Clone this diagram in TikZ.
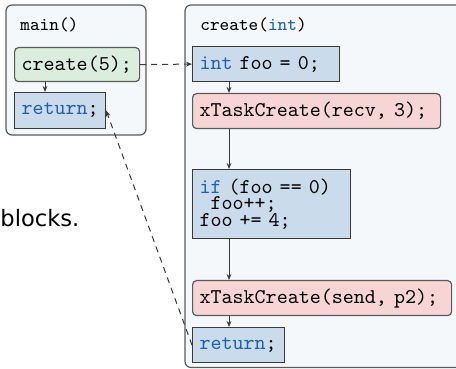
\documentclass[tikz,border=0pt]{standalone}
\usepackage{fontspec}
\newfontfamily\bodysans{DejaVu Sans}
\usetikzlibrary{arrows.meta}
\definecolor{panelfill}{HTML}{F5F8FB}
\definecolor{panelline}{HTML}{5A5A5A}
\definecolor{boxline}{HTML}{3A3A3A}
\definecolor{blockblue}{HTML}{CADBEB}
\definecolor{taskpink}{HTML}{F7D5D5}
\definecolor{callgreen}{HTML}{DBEEDD}
\definecolor{kw}{HTML}{1F5FAA}
\begin{document}
\begin{tikzpicture}[x=0.5pt,y=-0.5pt,
  panel/.style={draw=panelline,fill=panelfill,line width=0.6pt,rounded corners=3pt},
  ttl/.style={font=\fontsize{9.2}{10}\selectfont\ttfamily,anchor=base west,inner sep=0pt},
  code/.style={font=\fontsize{10.5}{8.3}\selectfont\ttfamily,anchor=north west,align=left,
    inner xsep=3.5pt,inner ysep=0pt,draw=boxline,line width=0.6pt},
  blk/.style={code,fill=blockblue},
  tsk/.style={code,fill=taskpink,rounded corners=2pt,draw=panelline},
  cal/.style={code,fill=callgreen,rounded corners=2pt,draw=panelline},
  arr/.style={draw=boxline,line width=0.5pt,-{Stealth[length=3pt,width=2.4pt]}},
  darr/.style={arr,dashed,dash pattern=on 3pt off 2.5pt}]
\clip (0,0) rectangle (456,369);
% panels
\draw[panel] (6,5) rectangle (146,135);
\draw[panel] (185,5) rectangle (480,367.5);
\node[ttl] (tmain) at (20,30.5) {main()};
\node[ttl] (tcreate) at (200,31) {create(\textcolor{kw}{int})};
% left text
\node[anchor=base west,inner sep=0pt,font=\bodysans\fontsize{11.3}{13}\selectfont] (blk) at (0,226.5) {blocks.};
% main boxes
\node[cal,text width=55.5pt,minimum height=17pt] (c5) at (14,47) {create(5);};
\node[blk,text width=38.5pt,minimum height=18pt] (mret) at (14,92) {\textcolor{kw}{return};};
% create boxes
\node[blk,text width=66.5pt,minimum height=17.5pt] (ifoo) at (192,46) {\textcolor{kw}{int} foo = 0;};
\node[tsk,text width=117pt,minimum height=17.5pt] (recv) at (192,93) {xTaskCreate(recv, 3);};
\node[blk,text width=72pt,minimum height=34.5pt] (ifb) at (192,169) {\textcolor{kw}{if} (foo == 0)\\\hphantom{f}foo++;\\foo += 4;};
\node[tsk,text width=122.5pt,minimum height=17.5pt] (send) at (192,280) {xTaskCreate(send, p2);};
\node[blk,text width=39pt,minimum height=17.5pt] (cret) at (192,327) {\textcolor{kw}{return};};
% arrow columns
\coordinate (ax) at (229,0);
\coordinate (mx) at (45,0);
\draw[arr] (c5.south -| mx) -- (mret.north -| mx);
\draw[arr] (ifoo.south -| ax) -- (recv.north -| ax);
\draw[arr] (recv.south -| ax) -- (ifb.north -| ax);
\draw[arr] (ifb.south -| ax) -- (send.north -| ax);
\draw[arr] (send.south -| ax) -- (cret.north -| ax);
% call / return
\draw[darr] (c5.east) -- (ifoo.west);
\draw[darr] (cret.west) -- (mret.east);
\end{tikzpicture}
\end{document}
